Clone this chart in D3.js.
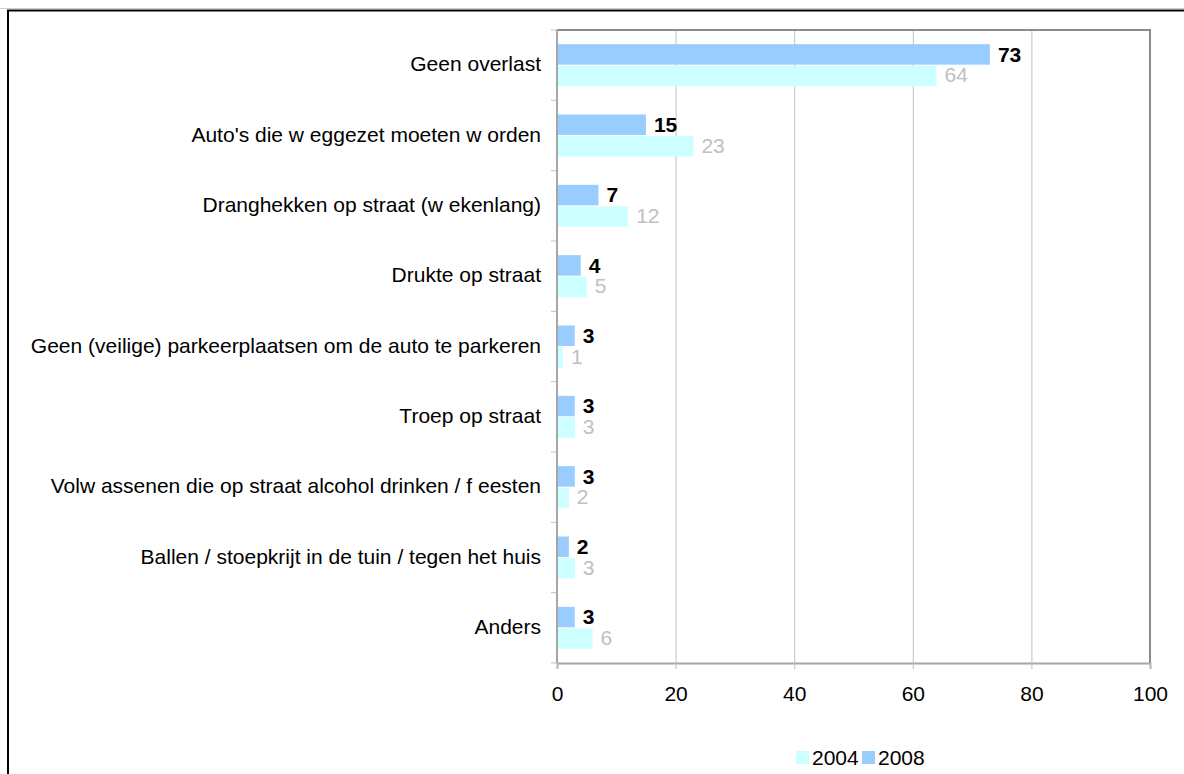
<!DOCTYPE html>
<html>
<head>
<meta charset="utf-8">
<script src="https://cdn.jsdelivr.net/npm/d3@7"></script>
<style>
  body { margin: 0; background: #fff; }
  text { font-family: "Liberation Sans", Arial, sans-serif; }
</style>
</head>
<body>
<div id="chart"></div>
<script>
// categories, top to bottom
var categories = [
    "Geen overlast",
    "Auto's die w eggezet moeten w orden",
    "Dranghekken op straat (w ekenlang)",
    "Drukte op straat",
    "Geen (veilige) parkeerplaatsen om de auto te parkeren",
    "Troep op straat",
    "Volw assenen die op straat alcohol drinken / f eesten",
    "Ballen / stoepkrijt in de tuin / tegen het huis",
    "Anders"
];
var values2008 = [73, 15, 7, 4, 3, 3, 3, 2, 3];
var values2004 = [64, 23, 12, 5, 1, 3, 2, 3, 6];
var xTicks = [0, 20, 40, 60, 80, 100];
var seriesNames = ["2004", "2008"];

var colors = { "2004": "#ccffff", "2008": "#99ccff" };
var fs = "21px";

// set the dimensions and margins of the graph
var W = 1184, H = 774;
var margin = { top: 30, right: 34, bottom: 111, left: 557 },
    width = W - margin.left - margin.right,
    height = H - margin.top - margin.bottom;

var svg = d3.select("#chart")
    .append("svg")
    .attr("width", W)
    .attr("height", H);

// outer frame of the pasted chart
svg.append("line")
    .attr("x1", 0).attr("x2", W).attr("y1", 8.5).attr("y2", 8.5)
    .attr("stroke", "#d0d0d0").attr("stroke-width", 1);
svg.append("rect")
    .attr("x", 8).attr("y", 10.5)
    .attr("width", W + 20).attr("height", H + 20)
    .attr("fill", "none").attr("stroke", "#000").attr("stroke-width", 2);

var g = svg.append("g")
    .attr("transform", "translate(" + margin.left + "," + margin.top + ")");

var x = d3.scaleLinear().domain([0, 100]).range([0, width]);

var y = d3.scaleBand().domain(categories).range([0, height]);

// two bars per category: 2008 above 2004
var sub = d3.scaleBand().domain(["2008", "2004"])
    .range([y.bandwidth() / 2 - 21, y.bandwidth() / 2 + 21])
    .paddingInner(0.05);

// gridlines
g.append("g")
    .attr("class", "grid")
    .attr("transform", "translate(0," + height + ")")
    .call(d3.axisBottom(x).tickValues(xTicks.slice(1, -1)).tickSize(-height).tickFormat(""))
    .call(function (s) {
        s.select(".domain").remove();
        s.selectAll("line").attr("stroke", "#c0c0c0").attr("stroke-width", 1);
    });

// plot border (top and right)
g.append("path")
    .attr("d", "M0,0H" + width + "V" + height)
    .attr("fill", "none")
    .attr("stroke", "#8c8c8c")
    .attr("stroke-width", 2);

// bars
var rows = categories.map(function (c, i) {
    return { cat: c, v2008: values2008[i], v2004: values2004[i] };
});

var grp = g.selectAll(".row").data(rows)
    .enter().append("g")
    .attr("class", "row")
    .attr("transform", function (d) { return "translate(0," + y(d.cat) + ")"; });

grp.append("rect")
    .attr("x", 0)
    .attr("y", sub("2008"))
    .attr("width", function (d) { return x(d.v2008); })
    .attr("height", sub.bandwidth())
    .attr("fill", colors["2008"]);

grp.append("rect")
    .attr("x", 0)
    .attr("y", sub("2004"))
    .attr("width", function (d) { return x(d.v2004); })
    .attr("height", sub.bandwidth())
    .attr("fill", colors["2004"]);

// value labels
grp.append("text")
    .attr("x", function (d) { return x(d.v2008) + 8; })
    .attr("y", sub("2008") + sub.bandwidth() / 2)
    .attr("dy", "0.35em")
    .style("font-size", fs)
    .style("font-weight", "bold")
    .attr("fill", "#000")
    .text(function (d) { return d.v2008; });

grp.append("text")
    .attr("x", function (d) { return x(d.v2004) + 8; })
    .attr("y", sub("2004") + sub.bandwidth() / 2)
    .attr("dy", "0.3em")
    .style("font-size", fs)
    .attr("fill", "#c0c0c0")
    .text(function (d) { return d.v2004; });

// Y axis
g.append("g")
    .call(d3.axisLeft(y).tickSize(0).tickPadding(16))
    .call(function (s) {
        s.select(".domain").remove();
        s.selectAll("text")
            .style("font-size", fs)
            .attr("fill", "#000")
            .attr("dy", "0.3em")
            .attr("font-family", null);
    });

// category boundary ticks
var bounds = categories.map(function (c) { return y(c); }).concat([height]);
g.selectAll(".btick").data(bounds)
    .enter().append("line")
    .attr("class", "btick")
    .attr("x1", -6).attr("x2", 0)
    .attr("y1", function (d) { return d; })
    .attr("y2", function (d) { return d; })
    .attr("stroke", "#c0c0c0");

g.append("line")
    .attr("x1", 0).attr("x2", 0).attr("y1", 0).attr("y2", height)
    .attr("stroke", "#a6a6a6").attr("stroke-width", 2);

// X axis
g.append("g")
    .attr("transform", "translate(0," + height + ")")
    .call(d3.axisBottom(x).tickValues(xTicks).tickSize(6).tickPadding(17).tickFormat(d3.format("d")))
    .call(function (s) {
        s.select(".domain").attr("stroke", "#a6a6a6").attr("stroke-width", 2);
        s.selectAll("line").attr("stroke", "#c0c0c0");
        s.selectAll("text")
            .style("font-size", fs)
            .attr("fill", "#000")
            .attr("font-family", null);
    });

// legend
var legend = svg.append("g")
    .attr("transform", "translate(796,751)");

var item = legend.selectAll(".leg").data(seriesNames)
    .enter().append("g")
    .attr("class", "leg")
    .attr("transform", function (d, i) { return "translate(" + (i * 66) + ",0)"; });

item.append("rect")
    .attr("width", 13).attr("height", 13)
    .attr("fill", function (d) { return colors[d]; });

item.append("text")
    .attr("x", 16)
    .attr("y", 7)
    .attr("dy", "0.35em")
    .style("font-size", fs)
    .text(function (d) { return d; });
</script>
</body>
</html>
